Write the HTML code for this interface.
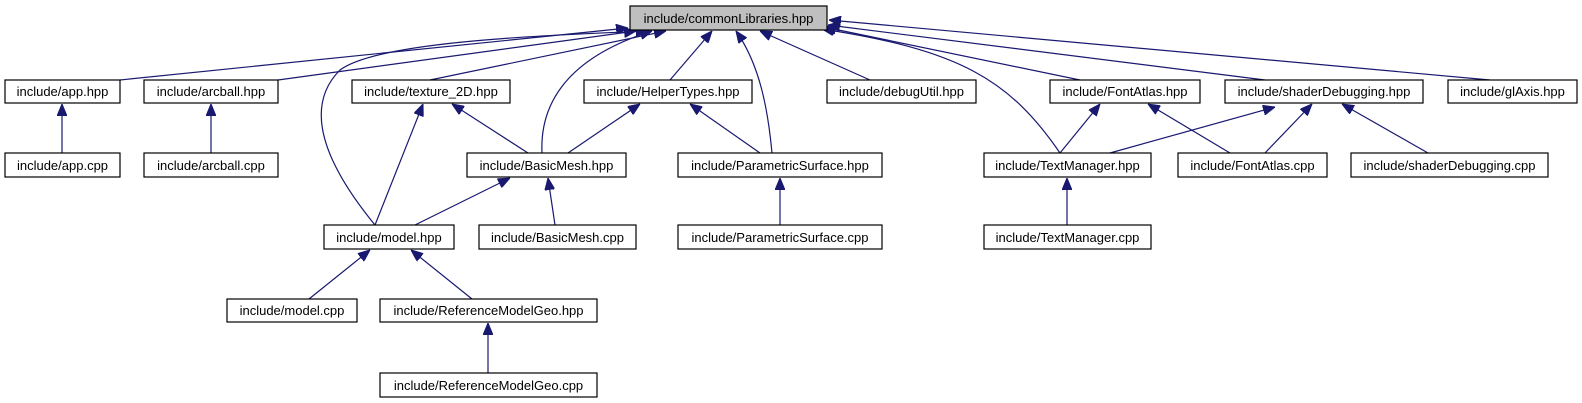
<!DOCTYPE html>
<html><head><meta charset="utf-8"><style>
html,body{margin:0;padding:0;background:#fff;}
svg{display:block;}
text{font-family:"Liberation Sans",Arial,sans-serif;font-size:13px;fill:#000;}
</style></head><body>
<svg width="1582" height="403" viewBox="0 0 1582 403" xmlns="http://www.w3.org/2000/svg">
<defs>
<marker id="a" viewBox="0 0 12 10" refX="12" refY="5" markerWidth="12" markerHeight="10" markerUnits="userSpaceOnUse" orient="auto">
<path d="M0,0 L12,5 L0,10 z" fill="#191970" stroke="#191970"/>
</marker>
</defs>
<g fill="none" stroke="#191970" stroke-width="1.2" marker-end="url(#a)">
<path d="M120,80 L628,28"/>
<path d="M278,80 L636,31"/>
<path d="M375,225 C330,170 300,110 340,70 C380,40 560,35 648,31"/>
<path d="M430,80 L666,31"/>
<path d="M542,153 C540,110 560,60 652,31"/>
<path d="M670,80 L712,31"/>
<path d="M772,153 C768,110 760,65 736,31"/>
<path d="M870,80 L760,31"/>
<path d="M1060,153 C1010,80 960,50 822,29"/>
<path d="M1080,80 L824,27"/>
<path d="M1265,80 L828,25"/>
<path d="M1490,80 L829,20"/>
<path d="M62,153 L62,104"/>
<path d="M211,153 L211,104"/>
<path d="M375,225 L423,104"/>
<path d="M528,153 L452,104"/>
<path d="M568,153 L640,104"/>
<path d="M760,153 L690,104"/>
<path d="M1060,153 L1100,104"/>
<path d="M1110,153 L1275,107"/>
<path d="M1230,153 L1148,104"/>
<path d="M1265,153 L1312,104"/>
<path d="M1428,153 L1342,104"/>
<path d="M415,225 L510,178"/>
<path d="M555,225 L548,178"/>
<path d="M780,225 L780,178"/>
<path d="M1067,225 L1067,178"/>
<path d="M309,299 L370,250"/>
<path d="M472,299 L411,250"/>
<path d="M488,373 L488,323"/>
</g>
<g stroke="#000" stroke-width="1.2" fill="#fff">
<rect x="630" y="6" width="197" height="24" fill="#bfbfbf"/>
<rect x="5" y="80" width="115" height="23"/>
<rect x="144" y="80" width="134" height="23"/>
<rect x="352" y="80" width="158" height="23"/>
<rect x="584" y="80" width="168" height="23"/>
<rect x="827" y="80" width="149" height="23"/>
<rect x="1050" y="80" width="150" height="23"/>
<rect x="1225" y="80" width="198" height="23"/>
<rect x="1448" y="80" width="129" height="23"/>
<rect x="5" y="153" width="115" height="24"/>
<rect x="144" y="153" width="134" height="24"/>
<rect x="467" y="153" width="159" height="24"/>
<rect x="678" y="153" width="204" height="24"/>
<rect x="984" y="153" width="167" height="24"/>
<rect x="1178" y="153" width="149" height="24"/>
<rect x="1351" y="153" width="197" height="24"/>
<rect x="324" y="225" width="130" height="24"/>
<rect x="479" y="225" width="157" height="24"/>
<rect x="678" y="225" width="204" height="24"/>
<rect x="984" y="225" width="167" height="24"/>
<rect x="227" y="299" width="130" height="23"/>
<rect x="380" y="299" width="217" height="23"/>
<rect x="380" y="373" width="217" height="24"/>
</g>
<g text-anchor="middle">
<text x="728.5" y="23">include/commonLibraries.hpp</text>
<text x="62.5" y="96">include/app.hpp</text>
<text x="211" y="96">include/arcball.hpp</text>
<text x="431" y="96">include/texture_2D.hpp</text>
<text x="668" y="96">include/HelperTypes.hpp</text>
<text x="901.5" y="96">include/debugUtil.hpp</text>
<text x="1125" y="96">include/FontAtlas.hpp</text>
<text x="1324" y="96">include/shaderDebugging.hpp</text>
<text x="1512.5" y="96">include/glAxis.hpp</text>
<text x="62.5" y="170">include/app.cpp</text>
<text x="211" y="170">include/arcball.cpp</text>
<text x="546.5" y="170">include/BasicMesh.hpp</text>
<text x="780" y="170">include/ParametricSurface.hpp</text>
<text x="1067.5" y="170">include/TextManager.hpp</text>
<text x="1252.5" y="170">include/FontAtlas.cpp</text>
<text x="1449.5" y="170">include/shaderDebugging.cpp</text>
<text x="389" y="242">include/model.hpp</text>
<text x="557.5" y="242">include/BasicMesh.cpp</text>
<text x="780" y="242">include/ParametricSurface.cpp</text>
<text x="1067.5" y="242">include/TextManager.cpp</text>
<text x="292" y="315">include/model.cpp</text>
<text x="488.5" y="315">include/ReferenceModelGeo.hpp</text>
<text x="488.5" y="390">include/ReferenceModelGeo.cpp</text>
</g>
</svg>
</body></html>
